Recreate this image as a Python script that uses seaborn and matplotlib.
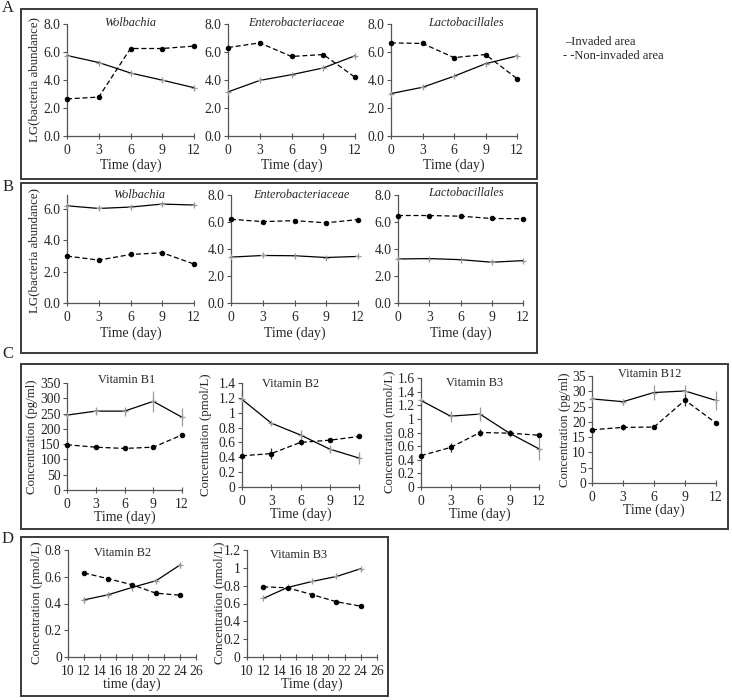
import numpy as np
import pandas as pd
import matplotlib
matplotlib.use("Agg")
import matplotlib.pyplot as plt
from matplotlib.patches import Rectangle
import seaborn as sns

# ---------------- DATA ----------------
days = [0, 3, 6, 9, 12]
days_d = [12, 15, 18, 21, 24]

# Panel A: LG(bacteria abundance)
a_wol_inv = [5.75, 5.25, 4.5, 3.99, 3.45]
a_wol_non = [2.65, 2.78, 6.25, 6.25, 6.42]
a_ent_inv = [3.15, 3.97, 4.38, 4.86, 5.73]
a_ent_non = [6.32, 6.65, 5.68, 5.82, 4.2]
a_lac_inv = [3.03, 3.48, 4.27, 5.16, 5.72]
a_lac_non = [6.65, 6.61, 5.6, 5.82, 4.1]

# Panel B
b_wol_inv = [6.21, 6.04, 6.13, 6.32, 6.26]
b_wol_non = [3.0, 2.74, 3.1, 3.21, 2.49]
b_wol_non_err = [0.05, 0.15, 0.1, 0.05, 0.15]
b_ent_inv = [3.4, 3.52, 3.5, 3.37, 3.45]
b_ent_non = [6.2, 6.03, 6.1, 5.94, 6.18]
b_lac_inv = [3.26, 3.29, 3.21, 3.02, 3.14]
b_lac_non = [6.48, 6.48, 6.43, 6.26, 6.24]

# Panel C: vitamins
c_b1_inv = [245, 258, 258, 290, 238]
c_b1_inv_err = [5, 12, 15, 35, 30]
c_b1_non = [148, 140, 136, 140, 180]
c_b1_non_err = [3, 4, 4, 4, 4]
c_b2_inv = [1.18, 0.86, 0.70, 0.51, 0.39]
c_b2_inv_err = [0.12, 0.02, 0.07, 0.05, 0.08]
c_b2_non = [0.42, 0.45, 0.60, 0.63, 0.68]
c_b2_non_err = [0.01, 0.07, 0.03, 0.02, 0.01]
c_b3_inv = [1.27, 1.04, 1.07, 0.79, 0.56]
c_b3_inv_err = [0.02, 0.08, 0.1, 0.05, 0.17]
c_b3_non = [0.46, 0.58, 0.80, 0.79, 0.76]
c_b3_non_err = [0.01, 0.06, 0.05, 0.04, 0.01]
c_b12_inv = [27.5, 26.6, 29.6, 30.1, 27.0]
c_b12_inv_err = [0.5, 1.0, 2.5, 2.0, 3.0]
c_b12_non = [17.4, 18.2, 18.3, 27.1, 19.6]
c_b12_non_err = [0.3, 1.0, 0.3, 2.0, 0.3]

# Panel D
d_b2_inv = [0.427, 0.465, 0.52, 0.57, 0.688]
d_b2_inv_err = [0.02, 0.02, 0.03, 0.01, 0.02]
d_b2_non = [0.628, 0.586, 0.54, 0.477, 0.462]
d_b3_inv = [0.657, 0.78, 0.847, 0.903, 0.99]
d_b3_non = [0.787, 0.776, 0.70, 0.62, 0.57]

bact_ticks = [0, 2, 4, 6, 8]
bact_labels = ["0.0", "2.0", "4.0", "6.0", "8.0"]
wolb_b_ticks = [0, 2, 4, 6]
wolb_b_labels = ["0.0", "2.0", "4.0", "6.0"]
b1_ticks = [0, 50, 100, 150, 200, 250, 300, 350]
b2_ticks = [0, 0.2, 0.4, 0.6, 0.8, 1.0, 1.2, 1.4]
b2_labels = ["0", "0.2", "0.4", "0.6", "0.8", "1", "1.2", "1.4"]
b3_ticks = [0, 0.2, 0.4, 0.6, 0.8, 1.0, 1.2, 1.4, 1.6]
b3_labels = ["0", "0.2", "0.4", "0.6", "0.8", "1", "1.2", "1.4", "1.6"]
b12_ticks = [0, 5, 10, 15, 20, 25, 30, 35]
d_b2_ticks = [0, 0.2, 0.4, 0.6, 0.8]
d_b2_labels = ["0", "0.2", "0.4", "0.6", "0.8"]
d_b3_ticks = [0, 0.2, 0.4, 0.6, 0.8, 1.0, 1.2]
d_b3_labels = ["0", "0.2", "0.4", "0.6", "0.8", "1", "1.2"]
d_xticks = [10, 12, 14, 16, 18, 20, 22, 24, 26]

# ---------------- STYLE ----------------
sns.set_theme(style="ticks")
plt.rcParams['font.family'] = ['Liberation Serif', 'DejaVu Serif']
plt.rcParams['font.size'] = 8
plt.rcParams['axes.linewidth'] = 0.9

W, H = 732, 700
fig = plt.figure(figsize=(W / 100, H / 100), dpi=100)
fig.patch.set_facecolor('white')

SPINE = '#555555'
GREY = '#9a9a9a'
TICKFS = 9.8
LABFS = 10


def add_ax(x0, y0, x1, y1):
    return fig.add_axes([x0 / W, 1 - y1 / H, (x1 - x0) / W, (y1 - y0) / H])


def style_ax(ax, xlim, xticks, ylim, yticks, ylabels):
    ax.set_xlim(*xlim)
    ax.set_ylim(*ylim)
    ax.set_xticks(xticks)
    ax.set_xticklabels([str(t) for t in xticks])
    ax.set_yticks(yticks)
    ax.set_yticklabels(ylabels if ylabels is not None else [str(t) for t in yticks])
    for s in ['top', 'right']:
        ax.spines[s].set_visible(False)
    for s in ['left', 'bottom']:
        ax.spines[s].set_color(SPINE)
        ax.spines[s].set_linewidth(0.9)
    ax.tick_params(axis='x', direction='inout', length=5, width=0.8, color=SPINE,
                   labelsize=TICKFS, pad=3)
    ax.tick_params(axis='y', direction='out', length=3, width=0.8, color=SPINE,
                   labelsize=TICKFS, pad=1.5)
    ax.set_facecolor('none')
    ax.grid(False)


def draw_series(ax, x, inv, non, inv_err=None, non_err=None):
    df = pd.DataFrame({'x': x, 'inv': inv, 'non': non})
    if inv_err is not None:
        ax.errorbar(x, inv, yerr=inv_err, fmt='none', ecolor=GREY, elinewidth=0.9,
                    capsize=0, clip_on=False, zorder=2)
    if non_err is not None:
        ax.errorbar(x, non, yerr=non_err, fmt='none', ecolor='#333333', elinewidth=0.9,
                    capsize=0, clip_on=False, zorder=2)
    sns.lineplot(data=df, x='x', y='inv', ax=ax, color='black', linewidth=0.9,
                 marker='+', markersize=5, markeredgecolor=GREY, markeredgewidth=0.9,
                 clip_on=False, zorder=3)
    sns.lineplot(data=df, x='x', y='non', ax=ax, color='black', linewidth=0.9,
                 linestyle=(0, (4, 2.2)), marker='o', markersize=3.2,
                 markerfacecolor='black', markeredgecolor='black',
                 clip_on=False, zorder=3)
    ax.set_xlabel('')
    ax.set_ylabel('')


def title(px, py, text, italic=False):
    fig.text(px / W, 1 - py / H, text, ha='center', va='center', fontsize=8.8,
             style='italic' if italic else 'normal')


def xlabel(ax, text, py):
    fig.text((ax.get_position().x0 + ax.get_position().width / 2), 1 - py / H, text,
             ha='center', va='center', fontsize=LABFS)


def ylabel(px, py, text):
    fig.text(px / W, 1 - py / H, text, ha='center', va='center', rotation=90,
             fontsize=9.3)


# ---------------- BOXES ----------------
for (x0, y0, x1, y1) in [(21, 9, 537, 179), (21, 183, 537, 353),
                         (21, 364, 728, 529), (21, 537, 388, 696)]:
    fig.patches.append(Rectangle((x0 / W, 1 - y1 / H), (x1 - x0) / W, (y1 - y0) / H,
                                 transform=fig.transFigure, fill=False,
                                 edgecolor='#3a3a3a', linewidth=1.4))

for letter, px, py in [('A', 8, 8), ('B', 8, 187), ('C', 8, 354), ('D', 8, 539)]:
    fig.text(px / W, 1 - py / H, letter, ha='center', va='center', fontsize=12)

# ---------------- PANEL A ----------------
A_y0, A_y1 = 24, 136
a_specs = [((67, 194), a_wol_inv, a_wol_non, 'Wolbachia', 130),
           ((228, 355), a_ent_inv, a_ent_non, 'Enterobacteriaceae', 296),
           ((391, 517), a_lac_inv, a_lac_non, 'Lactobacillales', 466)]
for (x0, x1), inv, non, name, tx in a_specs:
    ax = add_ax(x0, A_y0, x1, A_y1)
    draw_series(ax, days, inv, non)
    style_ax(ax, (0, 12), days, (0, 8), bact_ticks, bact_labels)
    title(tx, 23, name, italic=True)
    xlabel(ax, 'Time (day)', 165)
ylabel(34, 80, 'LG(bacteria abundance)')

fig.text(565 / W, 1 - 42 / H, '\u2013Invaded area', ha='left', va='center', fontsize=9)
fig.text(563 / W, 1 - 56 / H, '- -Non-invaded area', ha='left', va='center', fontsize=9)

# ---------------- PANEL B ----------------
B_y0, B_y1 = 195, 303
ax = add_ax(67, B_y0, 194, B_y1)
draw_series(ax, days, b_wol_inv, b_wol_non, inv_err=[0.05] * 5, non_err=b_wol_non_err)
style_ax(ax, (0, 12), days, (0, 6.9), wolb_b_ticks, wolb_b_labels)
title(139, 195, 'Wolbachia', italic=True)
xlabel(ax, 'Time (day)', 333)

ax = add_ax(231, B_y0, 358, B_y1)
draw_series(ax, days, b_ent_inv, b_ent_non)
style_ax(ax, (0, 12), days, (0, 8), bact_ticks, bact_labels)
title(301, 195, 'Enterobacteriaceae', italic=True)
xlabel(ax, 'Time (day)', 333)

ax = add_ax(398, B_y0, 523, B_y1)
draw_series(ax, days, b_lac_inv, b_lac_non)
style_ax(ax, (0, 12), days, (0, 8), bact_ticks, bact_labels)
title(466, 193, 'Lactobacillales', italic=True)
xlabel(ax, 'Time (day)', 333)
ylabel(34, 250, 'LG(bacteria abundance)')

# ---------------- PANEL C ----------------
ax = add_ax(67, 383, 182, 490)
draw_series(ax, days, c_b1_inv, c_b1_non, c_b1_inv_err, c_b1_non_err)
style_ax(ax, (0, 12), days, (0, 350), b1_ticks, None)
title(127, 380, 'Vitamin B1')
xlabel(ax, 'Time (day)', 517)
ylabel(32, 437, 'Concentration (pg/ml)')

ax = add_ax(242, 383, 359, 487)
draw_series(ax, days, c_b2_inv, c_b2_non, c_b2_inv_err, c_b2_non_err)
style_ax(ax, (0, 12), days, (0, 1.4), b2_ticks, b2_labels)
title(290, 384, 'Vitamin B2')
xlabel(ax, 'Time (day)', 514)
ylabel(206, 435, 'Concentration (pmol/L)')

ax = add_ax(421, 378, 539, 487)
draw_series(ax, days, c_b3_inv, c_b3_non, c_b3_inv_err, c_b3_non_err)
style_ax(ax, (0, 12), days, (0, 1.6), b3_ticks, b3_labels)
title(475, 383, 'Vitamin B3')
xlabel(ax, 'Time (day)', 514)
ylabel(389, 432, 'Concentration (nmol/L)')

ax = add_ax(592, 376, 716, 483)
draw_series(ax, days, c_b12_inv, c_b12_non, c_b12_inv_err, c_b12_non_err)
style_ax(ax, (0, 12), days, (0, 35), b12_ticks, None)
title(650, 374, 'Vitamin B12')
xlabel(ax, 'Time (day)', 510)
ylabel(565, 430, 'Concentration (pg/ml)')

# ---------------- PANEL D ----------------
ax = add_ax(68, 550, 196, 657)
draw_series(ax, days_d, d_b2_inv, d_b2_non, d_b2_inv_err, None)
style_ax(ax, (10, 26), d_xticks, (0, 0.8), d_b2_ticks, d_b2_labels)
title(123, 553, 'Vitamin B2')
xlabel(ax, 'time (day)', 684)
ylabel(37, 603, 'Concentration (pmol/L)')

ax = add_ax(247, 550, 377, 657)
draw_series(ax, days_d, d_b3_inv, d_b3_non, None, None)
style_ax(ax, (10, 26), d_xticks, (0, 1.2), d_b3_ticks, d_b3_labels)
title(298, 555, 'Vitamin B3')
xlabel(ax, 'Time (day)', 684)
ylabel(219, 603, 'Concentration (nmol/L)')

fig.savefig('out.png', dpi=100, facecolor='white')
